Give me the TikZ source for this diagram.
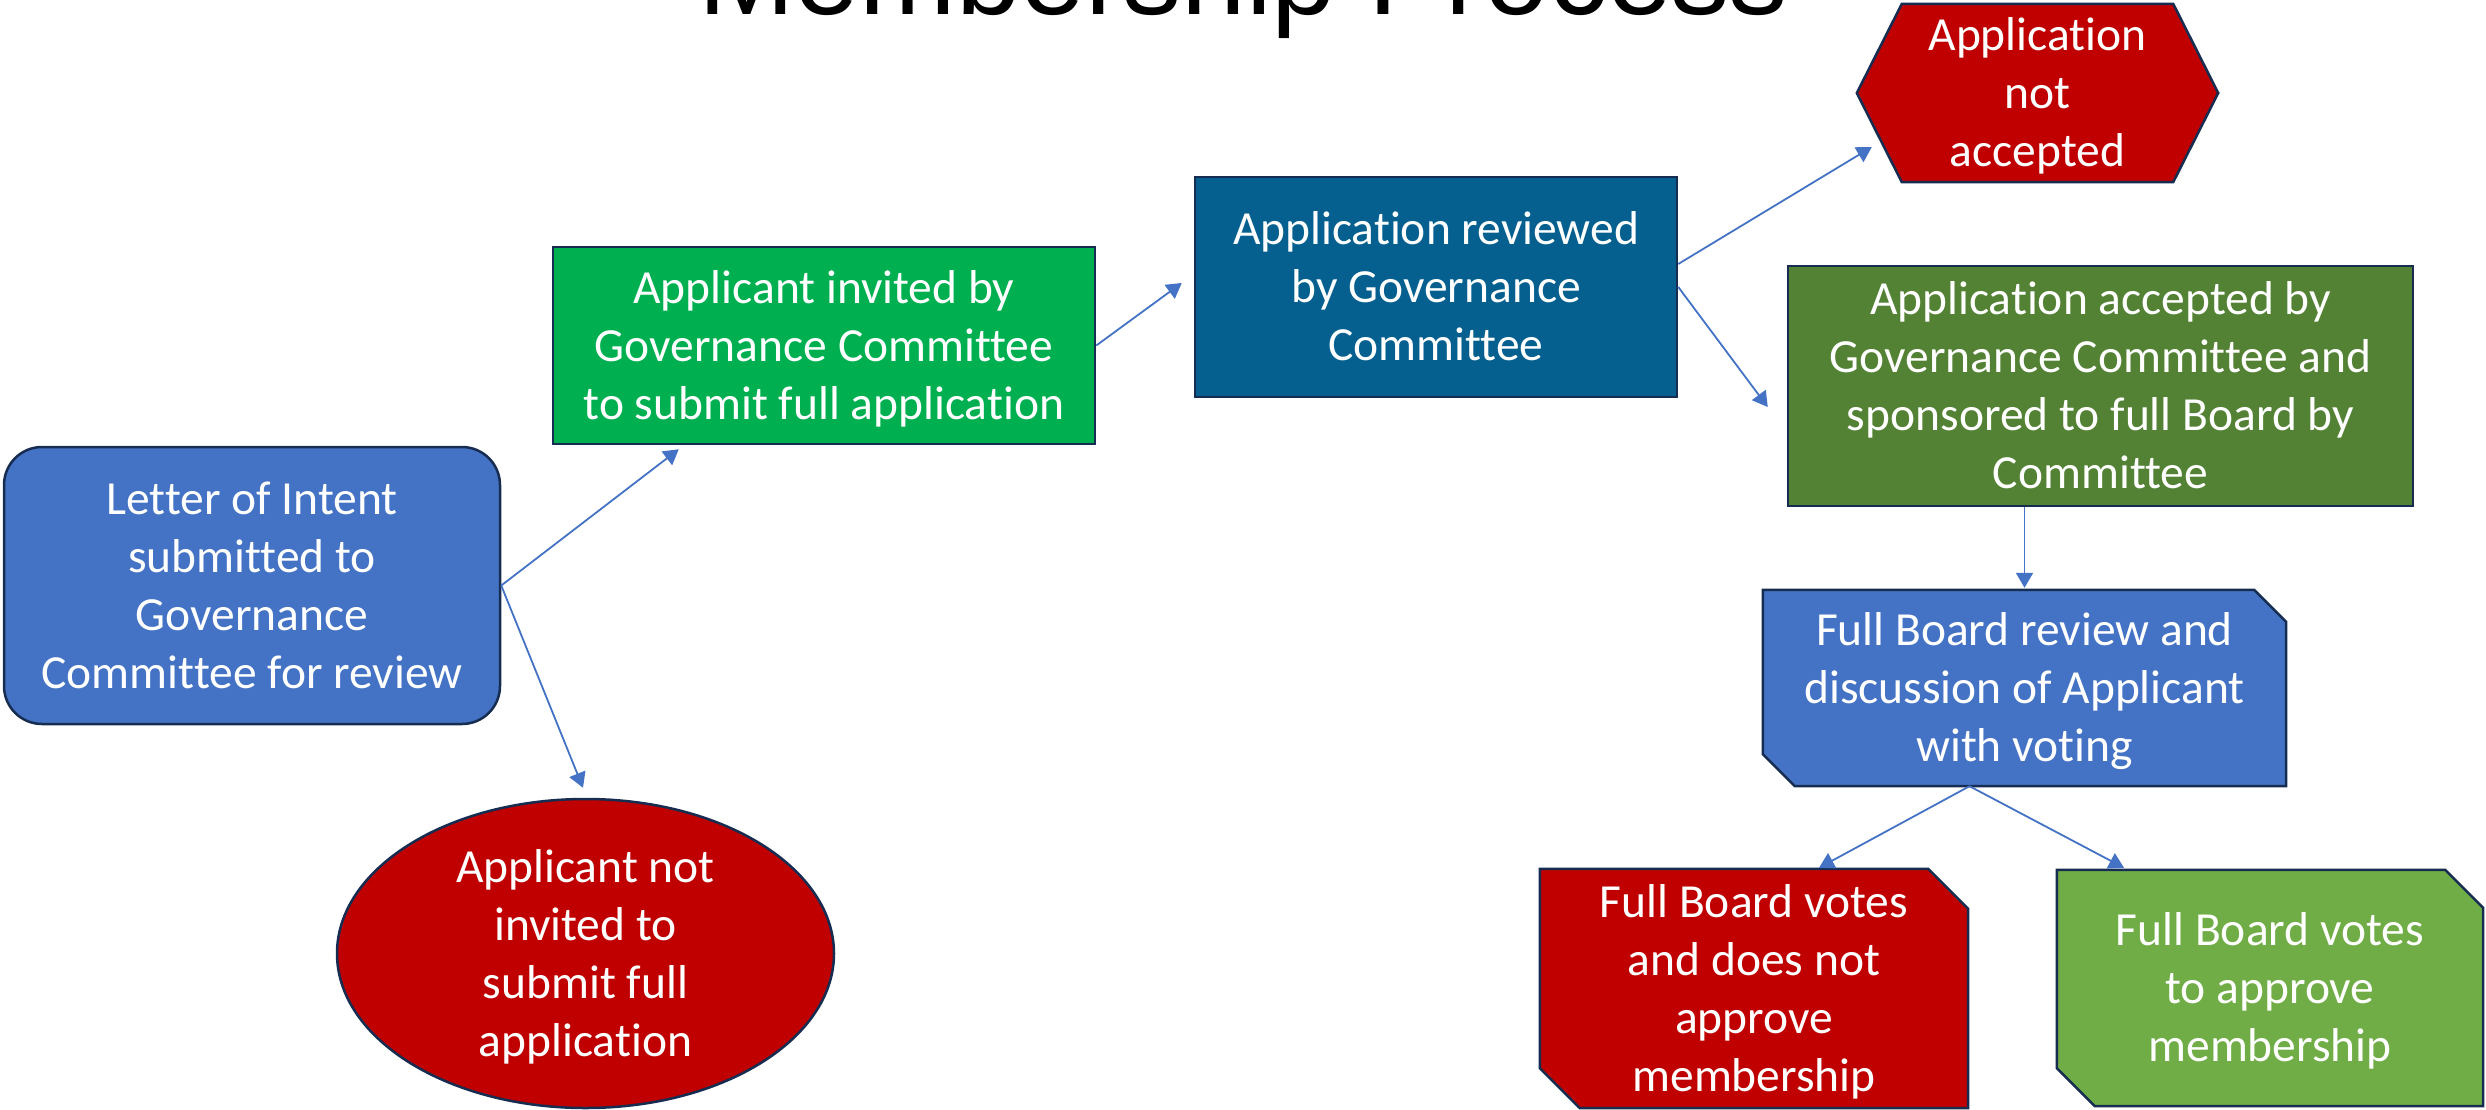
\documentclass[tikz,border=0pt]{standalone}
\usepackage{fontspec}
\setmainfont{Carlito}[Ligatures=NoCommon]
\newfontfamily\titlefont{Liberation Sans}
\usetikzlibrary{arrows.meta,shapes.geometric,backgrounds}
\definecolor{cblue}{HTML}{4472C4}
\definecolor{cgreen}{HTML}{00B050}
\definecolor{cteal}{HTML}{05608F}
\definecolor{cred}{HTML}{C00000}
\definecolor{cdkgreen}{HTML}{548235}
\definecolor{cltgreen}{HTML}{70AD47}
\definecolor{cborder}{HTML}{172C51}
\newcommand\bodyfont{\fontsize{47.5}{58}\selectfont}
\newcommand\ms{\rule[-12pt]{0pt}{55pt}}
\begin{document}
\begin{tikzpicture}[x=1pt,y=-1pt,
  box/.style={draw=cborder,line width=2.5pt,text=white,align=center,inner sep=0pt,font=\bodyfont},
  txt/.style={text=white,align=center,inner sep=0pt,font=\bodyfont},
  shp/.style={draw=cborder,line width=2.5pt,line join=miter},
  arr/.style={draw=cblue,line width=1.8pt,-{Triangle[width=17pt,length=15pt]}}]
\useasboundingbox (0,0) rectangle (2486,1110);
\clip (0,0) rectangle (2486,1110);

\node[anchor=base,font=\titlefont\fontsize{116}{130}\selectfont,inner sep=0pt] (title) at (1243,15) {Membership Process};

\node[box,fill=cblue,rounded corners=38pt,minimum width=496pt,minimum height=277pt] (loi) at (252,585.5)
  {\ms Letter of Intent\\submitted to\\Governance\\Committee for review\ms};
\node[box,fill=cgreen,minimum width=542pt,minimum height=197pt] (inv) at (824,345.5)
  {\ms Applicant invited by\\Governance Committee\\to submit full application\ms};
\node[box,fill=cteal,minimum width=482pt,minimum height=220pt] (rev) at (1436,287)
  {\ms Application reviewed\\by Governance\\Committee\ms};
\node[txt,minimum width=361pt,minimum height=178pt] (hex) at (2037.5,93)
  {\ms Application\\not\\accepted\ms};
\node[box,fill=cdkgreen,minimum width=625pt,minimum height=240pt] (acc) at (2100.5,386)
  {\ms Application accepted by\\Governance Committee and\\sponsored to full Board by\\Committee\ms};
\node[txt,minimum width=523pt,minimum height=196pt] (fbr) at (2024.5,688)
  {\ms Full Board review and\\discussion of Applicant\\with voting\ms};
\node[txt,minimum width=428pt,minimum height=239pt] (vno) at (1754,988.5)
  {\ms Full Board votes\\and does not\\approve\\membership\ms};
\node[txt,minimum width=426pt,minimum height=236pt] (vyes) at (2270,988)
  {\ms Full Board votes\\to approve\\membership\ms};
\node[box,fill=cred,ellipse,inner sep=-30pt,minimum width=497pt,minimum height=309pt] (nin) at (585.5,953.5)
  {\ms Applicant not\\invited to\\submit full\\application\ms};

\begin{scope}[on background layer]
\path[shp,fill=cred] ([xshift=45pt]hex.north west) -- ([xshift=-45pt]hex.north east) -- (hex.east)
  -- ([xshift=-45pt]hex.south east) -- ([xshift=45pt]hex.south west) -- (hex.west) -- cycle;
\path[shp,fill=cblue] (fbr.north west) -- ([xshift=-32pt]fbr.north east) -- ([yshift=-32pt]fbr.north east)
  -- (fbr.south east) -- ([xshift=32pt]fbr.south west) -- ([yshift=32pt]fbr.south west) -- cycle;
\path[shp,fill=cred] (vno.north west) -- ([xshift=-40pt]vno.north east) -- ([yshift=-40pt]vno.north east)
  -- (vno.south east) -- ([xshift=40pt]vno.south west) -- ([yshift=40pt]vno.south west) -- cycle;
\path[shp,fill=cltgreen] (vyes.north west) -- ([xshift=-38pt]vyes.north east) -- ([yshift=-38pt]vyes.north east)
  -- (vyes.south east) -- ([xshift=38pt]vyes.south west) -- ([yshift=38pt]vyes.south west) -- cycle;
\end{scope}

\draw[arr] (loi.east) -- ([shift={(127,4)}]inv.south west);
\draw[arr] (loi.east) -- ([shift={(-2.5,-10)}]nin.north);
\draw[arr] (inv.east) -- ([shift={(-12,-4)}]rev.west);
\draw[arr] ([yshift=23pt]rev.east) -- ([shift={(15,54)}]hex.west);
\draw[arr] (rev.east) -- ([shift={(-19,21)}]acc.west);
\draw[arr] (fbr.north |- acc.south) -- ([yshift=2pt]fbr.north);
\draw[arr] ([xshift=-55pt]fbr.south) -- ([shift={(65,-1)}]vno.north);
\draw[arr] ([xshift=-55pt]fbr.south) -- ([shift={(-146,-2)}]vyes.north);
\end{tikzpicture}
\end{document}
